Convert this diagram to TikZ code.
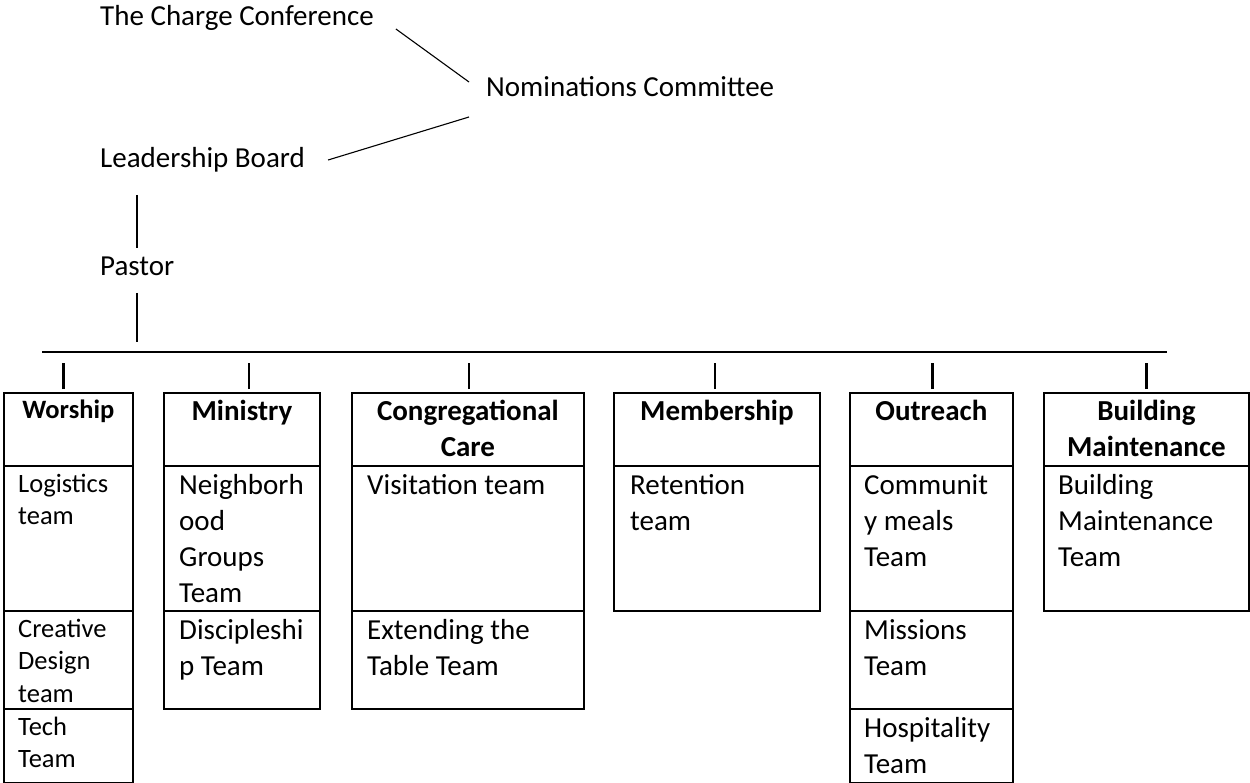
\documentclass[tikz,border=0pt]{standalone}
\usepackage{fontspec}
\setmainfont{Carlito}
\usepackage{tikz}

\begin{document}
\begin{tikzpicture}[x=1pt,y=-1pt,
  txt/.style={inner sep=0pt,align=left,font=\fontsize{29}{36}\selectfont},
  teamtxt/.style={txt,anchor=north west},
  wtxt/.style={teamtxt,font=\fontsize{26.5}{32.5}\selectfont},
  head/.style={inner sep=0pt,align=center,anchor=north,font=\bfseries\fontsize{29}{36.5}\selectfont},
  whead/.style={head,font=\bfseries\fontsize{26.5}{32.5}\selectfont},
  cell/.style={draw,line width=1.8pt,inner sep=0pt,anchor=north west},
  link/.style={line width=1.1pt},
  bar/.style={line width=2.6pt}]
\useasboundingbox (0,0) rectangle (1250,783);
% top of the chart
\node[txt,anchor=base west] (charge) at (100,26) {The Charge Conference};
\node[txt,anchor=base west] (nominations) at (486,97) {Nominations Committee};
\node[txt,anchor=base west] (board) at (100,168) {Leadership Board};
\node[txt,anchor=base west] (pastor) at (100,276) {Pastor};
\draw[link] ([shift={(22,3)}]charge.base east)--([shift={(-17,-15)}]nominations.base west);
\draw[link] ([shift={(-17,20)}]nominations.base west)--([shift={(23,-8)}]board.base east);
\draw[link] ([shift={(37,27)}]board.base west)--([shift={(37,-28)}]pastor.base west);
\coordinate (ruleL) at (42,352);
\coordinate (ruleR) at (1167,352);
\draw[link] ([shift={(37,17)}]pastor.base west)--([shift={(95,-10)}]ruleL);
\draw[line width=1.3pt] (ruleL)--(ruleR);
% header cells
\node[cell,minimum width=129pt,minimum height=73pt] (worship) at (3,392) {};
\node[cell,minimum width=156pt,minimum height=73pt] (ministry) at (163,392) {};
\node[cell,minimum width=232pt,minimum height=73pt] (congcare) at (351,392) {};
\node[cell,minimum width=206pt,minimum height=73pt] (membership) at (613,392) {};
\node[cell,minimum width=163pt,minimum height=73pt] (outreach) at (849,392) {};
\node[cell,minimum width=205pt,minimum height=73pt] (building) at (1043,392) {};
\foreach \n/\dx in {worship/-5,ministry/7,congcare/1,membership/-2,outreach/1,building/0}
  \draw[bar] ([xshift=\dx pt,yshift=3pt]\n.north)--++(0,-26);
\node[whead] (worshipT) at ([yshift=-3.2pt]worship.north) {\strut Worship};
\node[head] (ministryT) at ([yshift=-2.5pt]ministry.north) {\strut Ministry};
\node[head] (congcareT) at ([yshift=-2.5pt]congcare.north) {\strut Congregational\\Care};
\node[head] (membershipT) at ([yshift=-2.5pt]membership.north) {\strut Membership};
\node[head] (outreachT) at ([yshift=-2.5pt]outreach.north) {\strut Outreach};
\node[head] (buildingT) at ([yshift=-2.5pt]building.north) {\strut Building\\Maintenance};
% team cells
\node[cell,minimum width=129pt,minimum height=145pt] (logistics) at (3,465) {};
\node[cell,minimum width=129pt,minimum height=98pt] (creative) at (3,610) {};
\node[cell,minimum width=129pt,minimum height=74pt] (tech) at (3,708) {};
\node[cell,minimum width=156pt,minimum height=145pt] (neighbor) at (163,465) {};
\node[cell,minimum width=156pt,minimum height=98pt] (disciple) at (163,610) {};
\node[cell,minimum width=232pt,minimum height=145pt] (visitation) at (351,465) {};
\node[cell,minimum width=232pt,minimum height=98pt] (extending) at (351,610) {};
\node[cell,minimum width=206pt,minimum height=145pt] (retention) at (613,465) {};
\node[cell,minimum width=163pt,minimum height=145pt] (meals) at (849,465) {};
\node[cell,minimum width=163pt,minimum height=98pt] (missions) at (849,610) {};
\node[cell,minimum width=163pt,minimum height=74pt] (hospitality) at (849,708) {};
\node[cell,minimum width=205pt,minimum height=145pt] (upkeep) at (1043,465) {};
\node[wtxt] (logisticsT) at ([shift={(15,4.2)}]logistics.north west) {\strut Logistics\\team};
\node[wtxt] (creativeT) at ([shift={(15,4.2)}]creative.north west) {\strut Creative\\Design\\team};
\node[wtxt] (techT) at ([shift={(15,4.2)}]tech.north west) {\strut Tech\\Team};
\node[teamtxt] (neighborT) at ([shift={(16,3.8)}]neighbor.north west) {\strut Neighborh\\ood\\Groups\\Team};
\node[teamtxt] (discipleT) at ([shift={(16,3.8)}]disciple.north west) {\strut Discipleshi\\p Team};
\node[teamtxt] (visitationT) at ([shift={(16,3.8)}]visitation.north west) {\strut Visitation team};
\node[teamtxt] (extendingT) at ([shift={(16,3.8)}]extending.north west) {\strut Extending the\\Table Team};
\node[teamtxt] (retentionT) at ([shift={(17,3.8)}]retention.north west) {\strut Retention\\team};
\node[teamtxt] (mealsT) at ([shift={(15,3.8)}]meals.north west) {\strut Communit\\y meals\\Team};
\node[teamtxt] (missionsT) at ([shift={(15,3.8)}]missions.north west) {\strut Missions\\Team};
\node[teamtxt] (hospitalityT) at ([shift={(15,4.5)}]hospitality.north west) {\strut Hospitality\\Team};
\node[teamtxt] (upkeepT) at ([shift={(15,3.8)}]upkeep.north west) {\strut Building\\Maintenance\\Team};
\end{tikzpicture}
\end{document}
